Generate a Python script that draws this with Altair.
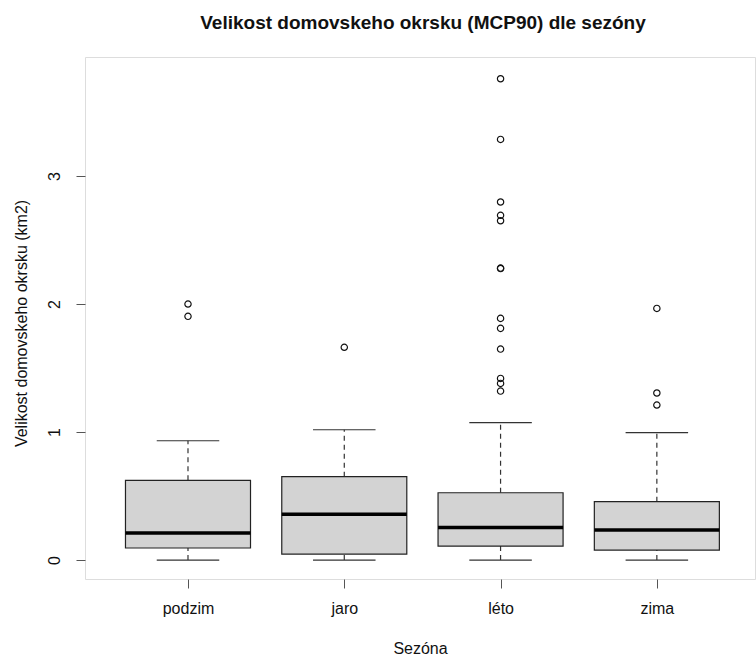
import json
import altair as alt
import pandas as pd

# Five-number summaries per season (km2)
seasons = ["podzim", "jaro", "léto", "zima"]
whisker_low = [0.0, 0.0, 0.0, 0.0]
q1 = [0.094, 0.047, 0.109, 0.078]
median = [0.211, 0.357, 0.255, 0.234]
q3 = [0.623, 0.651, 0.526, 0.456]
whisker_high = [0.932, 1.018, 1.073, 0.995]

# Outlying home-range sizes per season
outliers_podzim = [2.0, 1.904]
outliers_jaro = [1.662]
outliers_leto = [3.760, 3.286, 2.797, 2.693, 2.651, 2.281, 2.277,
                 1.888, 1.810, 1.648, 1.419, 1.380, 1.320]
outliers_zima = [1.966, 1.305, 1.211]

FONT = "Liberation Sans"
BOX_HALF = 0.4
CAP_HALF = 0.2

boxes = pd.DataFrame({
    "pos": [1, 2, 3, 4],
    "season": seasons,
    "wlo": whisker_low,
    "q1": q1,
    "med": median,
    "q3": q3,
    "whi": whisker_high,
})

out_rows = []
for pos, vals in zip([1, 2, 3, 4],
                     [outliers_podzim, outliers_jaro, outliers_leto, outliers_zima]):
    for v in vals:
        out_rows.append({"pos": pos, "value": v})
outliers = pd.DataFrame(out_rows)

label_expr = json.dumps(seasons) + "[datum.value - 1]"

x_scale = alt.Scale(domain=[0.341, 4.628], nice=False, zero=False)
y_scale = alt.Scale(domain=[-0.148, 3.93], nice=False, zero=False)

x_axis = alt.Axis(
    values=[1, 2, 3, 4], labelExpr=label_expr, title="Sezóna",
    grid=False, domain=False, tickSize=9, tickColor="#555",
    labelPadding=12, labelFontSize=16, labelFont=FONT, labelColor="#111",
    titleFontSize=16, titleFont=FONT, titleFontWeight="normal",
    titleColor="#111", titlePadding=24,
)
y_axis = alt.Axis(
    values=[0, 1, 2, 3], format="d", title="Velikost domovskeho okrsku (km2)",
    grid=False, domain=False, tickSize=9, tickColor="#555",
    labelAngle=270, labelAlign="center", labelBaseline="alphabetic",
    labelPadding=17, labelFontSize=16, labelFont=FONT, labelColor="#111",
    titleFontSize=16, titleFont=FONT, titleFontWeight="normal",
    titleColor="#111", titleAngle=270, titleBaseline="middle",
    titleX=-64, titleY=266,
)

base = alt.Chart(boxes).transform_calculate(
    xl=f"datum.pos - {BOX_HALF}",
    xr=f"datum.pos + {BOX_HALF}",
    cl=f"datum.pos - {CAP_HALF}",
    cr=f"datum.pos + {CAP_HALF}",
)

# Dashed whiskers
lower_whisker = base.mark_rule(color="#333", strokeWidth=1.2, strokeDash=[5, 4]).encode(
    x=alt.X("pos:Q", scale=x_scale, axis=x_axis),
    y=alt.Y("wlo:Q", scale=y_scale, axis=y_axis),
    y2="q1:Q",
)
upper_whisker = base.mark_rule(color="#333", strokeWidth=1.2, strokeDash=[5, 4]).encode(
    x="pos:Q", y="q3:Q", y2="whi:Q",
)

# Whisker caps
low_cap = base.mark_rule(color="#333", strokeWidth=1.2).encode(
    x="cl:Q", x2="cr:Q", y="wlo:Q",
)
high_cap = base.mark_rule(color="#333", strokeWidth=1.2).encode(
    x="cl:Q", x2="cr:Q", y="whi:Q",
)

# Interquartile boxes
box = base.mark_rect(fill="#d3d3d3", stroke="#222", strokeWidth=1.2).encode(
    x="xl:Q", x2="xr:Q", y="q1:Q", y2="q3:Q",
)

# Medians
med_line = base.mark_rule(color="#000", strokeWidth=3.5).encode(
    x="xl:Q", x2="xr:Q", y="med:Q",
)

points = alt.Chart(outliers).mark_point(
    shape="circle", filled=False, color="#111", size=40, strokeWidth=1.2, opacity=1
).encode(
    x="pos:Q", y="value:Q",
)

chart = alt.layer(
    lower_whisker, upper_whisker, low_cap, high_cap, box, med_line, points
).properties(
    width=670,
    height=522,
    autosize=alt.AutoSizeParams(type="none"),
    padding={"left": 85, "top": 57, "right": 1, "bottom": 78},
    title=alt.Title(
        "Velikost domovskeho okrsku (MCP90) dle sezóny",
        font=FONT, fontSize=19, fontWeight="bold", color="#111",
        anchor="middle", offset=24, dx=3,
    ),
).configure_view(
    stroke="#555", strokeWidth=1.2,
).configure(background="white")

chart.save("out.html", embed_options={"renderer": "svg", "actions": False})
